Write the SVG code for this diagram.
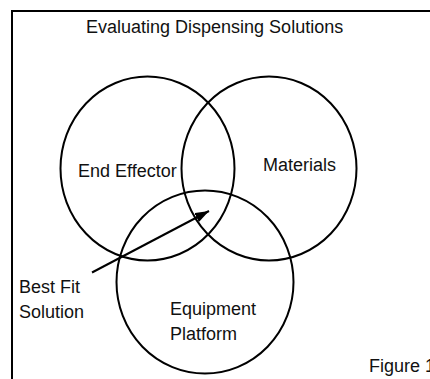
<svg xmlns="http://www.w3.org/2000/svg" width="430" height="379" viewBox="0 0 430 379">
  <style>
    .ring { fill: none; stroke: #000; stroke-width: 2; }
    .lbl { font-family: "Liberation Sans", Arial, sans-serif; font-size: 18px; fill: #111; }
    .wire { stroke: #000; stroke-width: 2; fill: none; }
  </style>
  <defs>
    <marker id="tip" viewBox="0 0 14 10" refX="14" refY="5" markerWidth="14" markerHeight="10" markerUnits="userSpaceOnUse" orient="auto">
      <path d="M0,0 L14,5 L0,10 z" fill="#000"/>
    </marker>
  </defs>

  <rect width="430" height="379" fill="#fff"/>
  <!-- frame, open to the right and bottom -->
  <rect x="12" y="11" width="600" height="600" fill="none" stroke="#000" stroke-width="2"/>

  <text id="title" class="lbl" x="86" y="33">Evaluating Dispensing Solutions</text>

  <g id="end-effector">
    <ellipse class="ring" cx="147.5" cy="168.5" rx="87" ry="92"/>
    <text class="lbl" x="78" y="177">End Effector</text>
  </g>

  <g id="materials">
    <ellipse class="ring" cx="269" cy="168.5" rx="87.5" ry="92"/>
    <text class="lbl" x="263" y="171">Materials</text>
  </g>

  <g id="equipment-platform">
    <ellipse class="ring" cx="205" cy="282" rx="88.5" ry="91.5"/>
    <text class="lbl" x="170" y="315">Equipment</text>
    <text class="lbl" x="170" y="340">Platform</text>
  </g>

  <g id="best-fit">
    <text class="lbl" x="19" y="293">Best Fit</text>
    <text class="lbl" x="19" y="318">Solution</text>
  </g>

  <g id="connectors">
    <line class="wire" x1="92" y1="272.5" x2="209" y2="211" marker-end="url(#tip)"/>
  </g>

  <text id="figure-no" class="lbl" x="369" y="372">Figure 1</text>
</svg>
